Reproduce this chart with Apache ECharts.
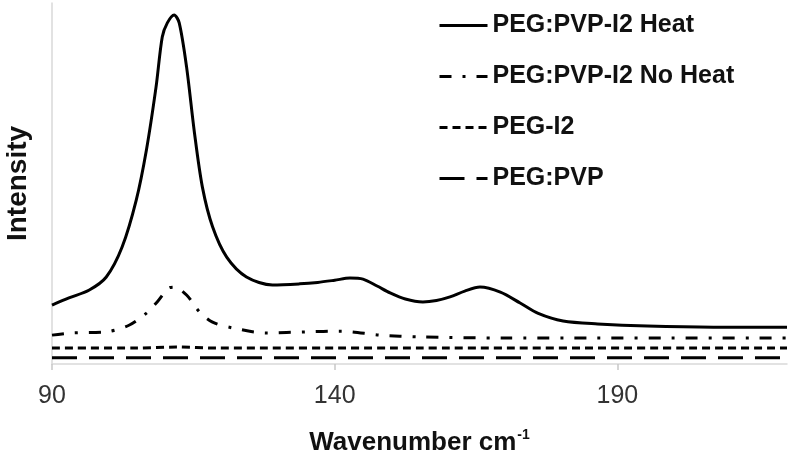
<!DOCTYPE html>
<html>
<head>
<meta charset="utf-8">
<script src="https://cdn.jsdelivr.net/npm/echarts@6/dist/echarts.min.js"></script>
<style>
  html, body { margin: 0; padding: 0; background: #fff; }
  #chart { width: 800px; height: 470px; }
</style>
</head>
<body>
<div id="chart"></div>
<script>
// wavenumber / intensity pairs (intensity in arbitrary units, 0-100)
const heatX = [90, 93, 96.6, 99.6, 102.4, 104.9, 106.7, 108.4, 109.5, 110.4, 111.6, 112.5, 113.8, 115.2, 116.6, 118.4, 120.9, 124.4, 129, 133.8, 137, 140, 142.7, 145, 147.5, 149.8, 152.5, 155.6, 158, 160.4, 163, 165.7, 169.3, 172.8, 176, 180.4, 186.5, 195.3, 207, 220]
const heatY = [16.3, 18.3, 20.5, 24.1, 32.4, 45.4, 59.3, 76.7, 90.6, 94.5, 96.7, 94.5, 82.3, 64.0, 49.0, 38.0, 29.6, 24.1, 21.9, 22.2, 22.6, 23.2, 23.8, 23.5, 21.6, 19.7, 18.0, 17.2, 17.6, 18.6, 20.2, 21.3, 19.9, 16.9, 14.0, 11.9, 11.1, 10.5, 10.2, 10.2]

const noHeatX = [90, 93.5, 99.6, 103.7, 106.7, 108.6, 110.7, 111.6, 113.8, 116.1, 118.4, 121.9, 127.9, 135, 141, 148, 155, 170, 220]
const noHeatY = [8.0, 8.6, 8.9, 10.8, 14.1, 17.2, 21.1, 21.3, 19.1, 14.4, 11.6, 10.0, 8.6, 8.9, 9.1, 8.0, 7.5, 7.2, 7.2]

const pegI2X = [90, 105, 112, 119, 150, 220]
const pegI2Y = [4.4, 4.4, 4.7, 4.4, 4.4, 4.4]

const pegPvpX = [90, 150, 220]
const pegPvpY = [1.7, 1.7, 1.7]

const seriesNames = ['PEG:PVP-I2 Heat', 'PEG:PVP-I2 No Heat', 'PEG-I2', 'PEG:PVP']
const xTicks = [90, 140, 190]

function pairs (xs, ys) {
  return xs.map((x, i) => [x, ys[i]])
}

const chart = echarts.init(document.getElementById('chart'))
const option = {
  animation: false,
  grid: {
    left: 52,
    right: 13,
    top: 3,
    bottom: 106,
    outerBoundsMode: 'none'
  },
  legend: {
    orient: 'vertical',
    left: 433,
    top: 8,
    itemWidth: 48,
    itemHeight: 14,
    itemGap: 26,
    itemStyle: { color: 'rgba(0,0,0,0)', borderColor: 'rgba(0,0,0,0)', borderWidth: 0 },
    lineStyle: { width: 3 },
    textStyle: {
      fontFamily: 'Liberation Sans',
      fontWeight: 'bold',
      fontSize: 25,
      color: '#111'
    },
    data: seriesNames
  },
  xAxis: {
    type: 'value',
    min: 90,
    max: 220,
    interval: 50,
    name: '{t|Wavenumber cm}{s|-1}',
    nameLocation: 'middle',
    nameGap: 64,
    nameTextStyle: {
      rich: {
        t: { fontFamily: 'Liberation Sans', fontWeight: 'bold', fontSize: 26, color: '#111', lineHeight: 30 },
        s: { fontFamily: 'Liberation Sans', fontWeight: 'bold', fontSize: 14, color: '#111', verticalAlign: 'top', lineHeight: 30, padding: [0, 0, 14, 1] }
      }
    },
    axisLine: { lineStyle: { color: '#d9d9d9', width: 1.5 } },
    axisTick: { show: true, length: 6, customValues: xTicks, lineStyle: { color: '#c8c8c8', width: 1.5 } },
    axisLabel: {
      customValues: xTicks,
      fontFamily: 'Liberation Sans',
      fontSize: 25,
      color: '#333',
      margin: 20
    },
    splitLine: { show: false }
  },
  yAxis: {
    type: 'value',
    min: 0,
    max: 100,
    name: 'Intensity',
    nameLocation: 'middle',
    nameRotate: 90,
    nameGap: 20,
    nameTextStyle: {
      fontFamily: 'Liberation Sans',
      fontWeight: 'bold',
      fontSize: 28,
      color: '#111'
    },
    axisLine: { show: true, lineStyle: { color: '#d9d9d9', width: 1.5 } },
    axisTick: { show: false },
    axisLabel: { show: false },
    splitLine: { show: false }
  },
  series: [
    {
      name: seriesNames[0],
      type: 'line',
      data: pairs(heatX, heatY),
      smooth: 0.3,
      symbol: 'none',
      lineStyle: { color: '#000', width: 3, type: 'solid' },
      itemStyle: { color: '#000' }
    },
    {
      name: seriesNames[1],
      type: 'line',
      data: pairs(noHeatX, noHeatY),
      smooth: 0.3,
      symbol: 'none',
      lineStyle: { color: '#000', width: 3, type: [12, 11, 3, 11] },
      itemStyle: { color: '#000' }
    },
    {
      name: seriesNames[2],
      type: 'line',
      data: pairs(pegI2X, pegI2Y),
      smooth: 0.3,
      symbol: 'none',
      lineStyle: { color: '#000', width: 3, type: [8, 5] },
      itemStyle: { color: '#000' }
    },
    {
      name: seriesNames[3],
      type: 'line',
      data: pairs(pegPvpX, pegPvpY),
      symbol: 'none',
      lineStyle: { color: '#000', width: 3, type: [25, 12] },
      itemStyle: { color: '#000' }
    }
  ]
}
chart.setOption(option)
</script>
</body>
</html>
